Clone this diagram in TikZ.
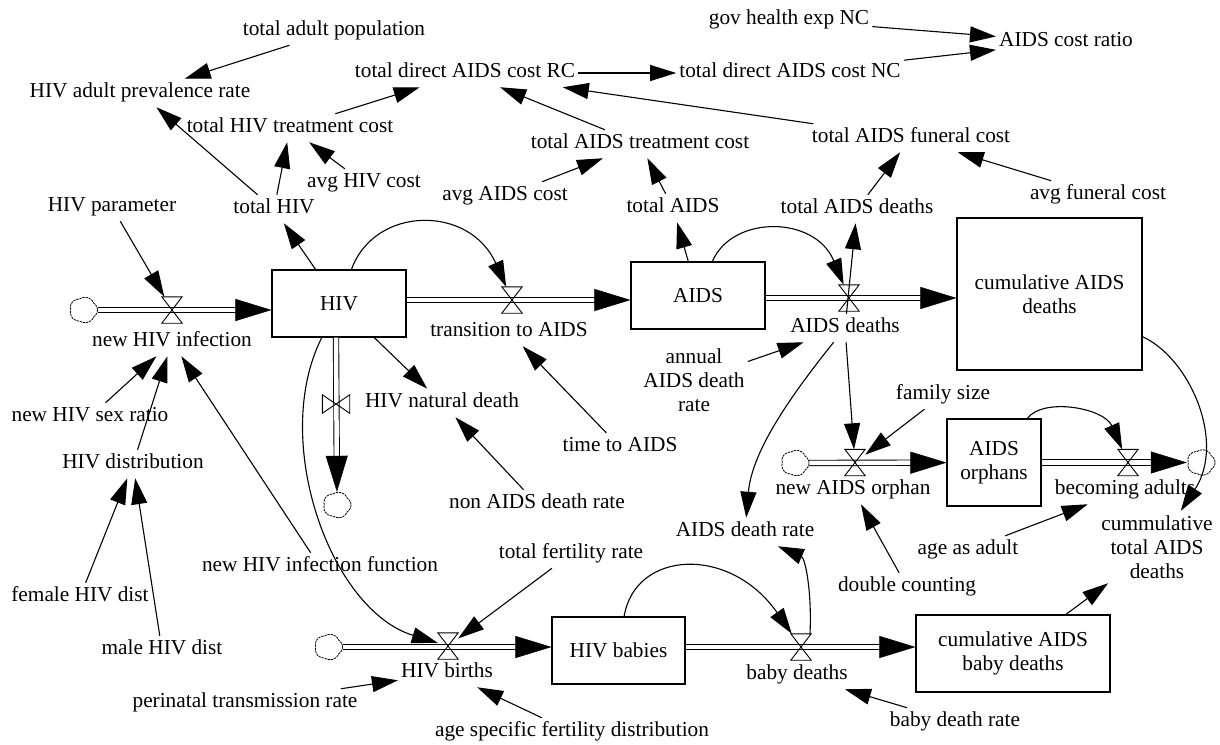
\documentclass[tikz,border=0pt]{standalone}
\usepackage{fontspec}
\setmainfont{Liberation Serif}
\usetikzlibrary{arrows.meta,calc}
\tikzset{
 lab/.style={inner xsep=3pt, inner ysep=4.5pt, text height=14.5pt, text depth=4.6pt},
 mlab/.style={align=center, inner xsep=3pt, inner ysep=4.5pt},
 stock/.style={draw, line width=1.1pt, inner sep=0pt, align=center},
 cloudbox/.style={minimum width=28pt, minimum height=26pt, inner sep=0pt},
 cloudsty/.style={line width=0.8pt, dash pattern=on 2.4pt off 0.8pt},
 vbox/.style={minimum width=20pt, minimum height=26pt, inner sep=0pt},
 hbox/.style={minimum width=27pt, minimum height=18pt, inner sep=0pt},
 valvel/.style={line width=0.9pt},
 link/.style={line width=1.1pt, -{Triangle[length=26pt,width=16pt]}},
 pipe/.style={double=white, double distance=4.5pt, line width=0.9pt, shorten >=30pt},
 pipehead/.style={draw=white, line width=0.4pt, -{Triangle[length=36pt,width=22pt,color=black]}},
}
\newcommand{\hv}[1]{\draw[valvel] (#1.north west) -- (#1.north east) -- (#1.south west) -- (#1.south east) -- cycle;}
\newcommand{\vv}[1]{\draw[valvel] (#1.north west) -- (#1.south west) -- (#1.north east) -- (#1.south east) -- cycle;}
\newcommand{\flowpipe}[2]{\draw[pipe] #1 -- #2; \draw[pipehead] #1 -- #2;}
\newcommand{\cloudline}[1]{\draw[cloudsty, shift={(#1.center)}] plot[domain=0:360, samples=121, smooth] ({12.6*cos(\x)*(1+0.11*abs(cos(2.5*\x)))},{11.6*sin(\x)*(1+0.11*abs(cos(2.5*\x)))}) -- cycle;}
\begin{document}
\begin{tikzpicture}[x=1pt,y=-1pt, every node/.style={font=\fontsize{21.3}{24}\selectfont}]
\useasboundingbox (0,0) rectangle (1220,744);
% stocks
\node[stock, minimum width=134pt, minimum height=67pt] (HIV) at (339,303.5) {HIV};
\node[stock, minimum width=134pt, minimum height=67pt] (AIDS) at (698,295.5) {AIDS};
\node[stock, minimum width=185pt, minimum height=152pt] (cumAIDS) at (1049.5,294) {cumulative AIDS\\deaths};
\node[stock, minimum width=94pt, minimum height=87pt] (orphans) at (994,462.5) {AIDS\\orphans};
\node[stock, minimum width=133pt, minimum height=67pt] (babies) at (618.5,650.5) {HIV babies};
\node[stock, minimum width=194pt, minimum height=77pt] (cumBaby) at (1013,653.5) {cumulative AIDS\\baby deaths};
% clouds
\node[cloudbox] (c1) at (83.5,310) {};
\node[cloudbox] (c2) at (337,505) {};
\node[cloudbox] (c3) at (795,463) {};
\node[cloudbox] (c4) at (1201,462.5) {};
\node[cloudbox] (c5) at (328.5,647) {};
% valves
\node[vbox] (vNewHIV) at (172,310) {};
\node[vbox] (vTrans) at (512,300) {};
\node[vbox] (vAIDSd) at (849,298) {};
\node[hbox] (vNat) at (336,404) {};
\node[vbox] (vOrph) at (855,462.5) {};
\node[vbox] (vAdult) at (1128,462.5) {};
\node[vbox] (vBirth) at (448,646) {};
\node[vbox] (vBaby) at (801,647) {};
% flow labels
\node[lab] (lNewHIV) at (172,342) {new HIV infection};
\node[lab] (lTrans) at (509,332) {transition to AIDS};
\node[lab] (lAIDSd) at (845,328) {AIDS deaths};
\node[lab] (lNat) at (442,403) {HIV natural death};
\node[lab] (lOrph) at (853,490) {new AIDS orphan};
\node[lab] (lAdult) at (1125,490) {becoming adults};
\node[lab] (lBirth) at (447,673) {HIV births};
\node[lab] (lBaby) at (797,675) {baby deaths};
% auxiliaries
\node[lab] (tap) at (334,31) {total adult population};
\node[lab] (prev) at (140,93) {HIV adult prevalence rate};
\node[lab] (RC) at (465,73) {total direct AIDS cost RC};
\node[lab] (NC) at (790,73) {total direct AIDS cost NC};
\node[lab] (gov) at (789,20) {gov health exp NC};
\node[lab] (ratio) at (1066,42) {AIDS cost ratio};
\node[lab] (HIVtc) at (290,128) {total HIV treatment cost};
\node[lab] (AIDStc) at (640,144) {total AIDS treatment cost};
\node[lab] (fun) at (911,138) {total AIDS funeral cost};
\node[lab] (avgHIV) at (364,183) {avg HIV cost};
\node[lab] (avgAIDS) at (505,196) {avg AIDS cost};
\node[lab] (avgFun) at (1098,195) {avg funeral cost};
\node[lab] (param) at (112,207) {HIV parameter};
\node[lab] (totHIV) at (274,209) {total HIV};
\node[lab] (totAIDS) at (673,208) {total AIDS};
\node[lab] (totAIDSd) at (857,209) {total AIDS deaths};
\node[mlab] (annual) at (694,380) {annual\\AIDS death\\rate};
\node[lab] (sexRatio) at (90,417) {new HIV sex ratio};
\node[lab] (dist) at (133,464) {HIV distribution};
\node[lab] (timeAIDS) at (620,447) {time to AIDS};
\node[lab] (nonAIDS) at (537,504) {non AIDS death rate};
\node[lab] (famSize) at (943,395) {family size};
\node[lab] (female) at (80,597) {female HIV dist};
\node[lab] (male) at (162,650) {male HIV dist};
\node[lab] (nhif) at (320,567) {new HIV infection function};
\node[lab] (tfr) at (571,554) {total fertility rate};
\node[lab] (adr) at (745,532) {AIDS death rate};
\node[lab] (dbl) at (907,587) {double counting};
\node[lab] (ageAdult) at (968,550) {age as adult};
\node[mlab] (cumTotal) at (1157,547) {cummulative\\total AIDS\\deaths};
\node[lab] (perinatal) at (245,703) {perinatal transmission rate};
\node[lab] (ageSpec) at (572,732) {age specific fertility distribution};
\node[lab] (babyRate) at (955,722) {baby death rate};
% pipes
\flowpipe{(c1)}{(c1 -| HIV.west)}
\flowpipe{(HIV.east |- vTrans)}{(AIDS.west |- vTrans)}
\flowpipe{(AIDS.east |- vAIDSd)}{(cumAIDS.west |- vAIDSd)}
\flowpipe{(HIV.south -| vNat)}{(c2)}
\flowpipe{(c3)}{(orphans)}
\flowpipe{(orphans)}{(c4)}
\flowpipe{(c5)}{(c5 -| babies.west)}
\flowpipe{(babies.east |- vBaby)}{(cumBaby.west |- vBaby)}
% cloud outlines
\cloudline{c1} \cloudline{c2} \cloudline{c3} \cloudline{c4} \cloudline{c5}
% valve shapes
\hv{vNewHIV} \hv{vTrans} \hv{vAIDSd} \vv{vNat} \hv{vOrph} \hv{vAdult} \hv{vBirth} \hv{vBaby}
% links
\draw[link] (tap) -- (prev);
\draw[link] (totHIV) -- (prev);
\draw[link] (totHIV) -- (HIVtc);
\draw[link] (avgHIV) -- (HIVtc);
\draw[link] (HIVtc) -- (RC);
\draw[link] (AIDStc) -- (RC);
\draw[link] (fun) -- (RC);
\draw[link] (RC) -- (NC);
\draw[link] (NC) -- (ratio);
\draw[link] (gov) -- (ratio);
\draw[link] (avgAIDS) -- (AIDStc);
\draw[link] (totAIDS) -- (AIDStc);
\draw[link] (totAIDSd) -- (fun);
\draw[link] (avgFun) -- (fun);
\draw[link] (HIV) -- (totHIV);
\draw[link] (AIDS) -- (totAIDS);
\draw[link] (lAIDSd) -- (totAIDSd);
\draw[link] (HIV) .. controls (375,205) and (470,205) .. (vTrans);
\draw[link] (AIDS) .. controls (732,215) and (815,215) .. (vAIDSd);
\draw[link] (param) -- (vNewHIV);
\draw[link] (sexRatio) -- (lNewHIV);
\draw[link] (dist) -- (lNewHIV);
\draw[link] (nhif) -- (lNewHIV);
\draw[link] (female) -- (dist);
\draw[link] (male) -- (dist);
\draw[link] (HIV) -- (lNat);
\draw[link] (nonAIDS) -- (lNat);
\draw[link] (timeAIDS) -- (lTrans);
\draw[link] (annual) -- (lAIDSd);
\draw[link] (lAIDSd) -- (vOrph);
\draw[link] (lAIDSd) .. controls (793,393) and (752,450) .. (adr);
\draw[link] (famSize) -- (vOrph);
\draw[link] (orphans) .. controls (1043.5,397) and (1104,408) .. (vAdult);
\draw[link] (ageAdult) -- (lAdult);
\draw[link] (dbl) -- (lOrph);
\draw[link] (cumAIDS) .. controls (1190,358.5) and (1226,442) .. (cumTotal);
\draw[link] (cumBaby) -- (cumTotal);
\draw[link] (HIV) .. controls (270,440) and (330,610) .. (vBirth);
\draw[link] (tfr) -- (vBirth);
\draw[link] (perinatal) -- (lBirth);
\draw[link] (ageSpec) -- (lBirth);
\draw[link] (babies) .. controls (635,550) and (730,545) .. (vBaby);
\draw[link] ([xshift=9pt]vBaby.north) .. controls (812,590) and (805,558) .. (adr);
\draw[link] (babyRate) -- (lBaby);
\end{tikzpicture}
\end{document}
